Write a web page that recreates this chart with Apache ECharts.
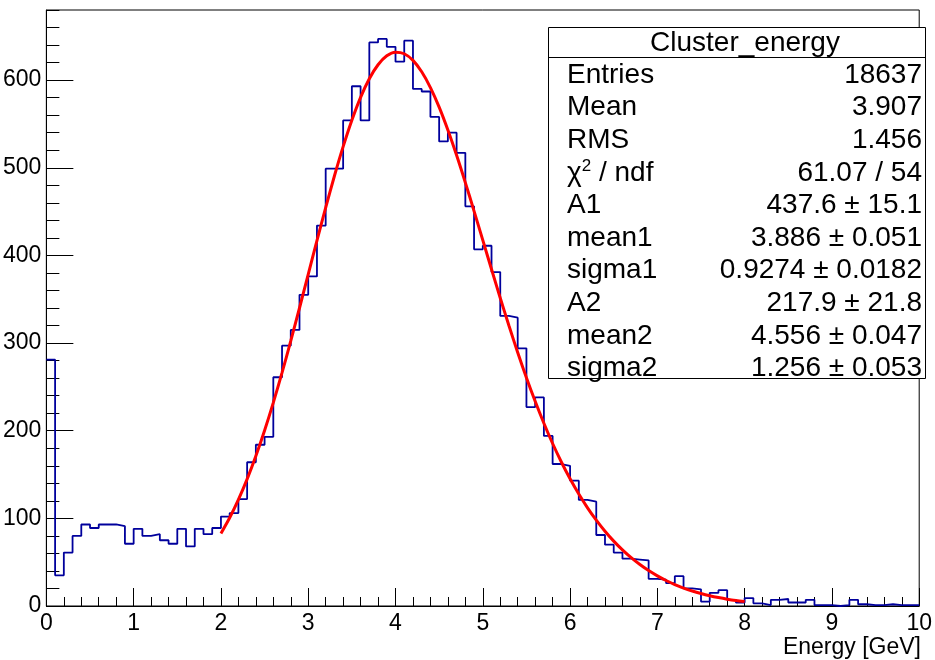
<!DOCTYPE html>
<html><head><meta charset="utf-8">
<script src="https://cdn.jsdelivr.net/npm/echarts@6/dist/echarts.min.js"></script>
<style>html,body{margin:0;padding:0;background:#fff}#c{width:935px;height:660px}</style>
</head><body><div id="c"></div>
<script>
// ---- data ----
const binWidth = 0.1;
const xStart = 0;
const counts = [
  281, 35, 61, 80, 93, 89, 93, 93, 91, 71,
  88, 80, 82, 75, 71, 88, 68, 88, 82, 89,
  102, 106, 122, 164, 184, 193, 261, 297, 315, 355,
  376, 434, 499, 499, 554, 593, 554, 643, 647, 638,
  621, 645, 590, 587, 558, 530, 540, 517, 456, 407,
  411, 381, 331, 329, 294, 227, 238, 194, 162, 160,
  143, 121, 119, 81, 70, 61, 54, 53, 52, 31,
  30, 26, 34, 20, 19, 5, 15, 18, 7, 4,
  9, 3, 1, 7, 8, 4, 4, 7, 1, 1,
  0, 1, 7, 2, 1, 1, 2, 1, 1, 1
];
const fitStart = 2.0;
const fitStep = 0.1;
const fitValues = [
  82.8, 100.7, 121.4, 144.8, 171.1, 200.3, 232.1, 266.3, 302.4, 340.0,
  378.4, 416.9, 454.5, 490.6, 524.1, 554.3, 580.4, 601.6, 617.5, 627.7,
  631.9, 630.1, 622.5, 609.5, 591.5, 569.2, 543.1, 514.2, 483.1, 450.6,
  417.4, 384.2, 351.4, 319.7, 289.3, 260.5, 233.6, 208.5, 185.4, 164.3,
  145.1, 127.7, 112.0, 97.9, 85.3, 74.0, 64.0, 55.1, 47.3, 40.4,
  34.4, 29.1, 24.5, 20.5, 17.1, 14.2, 11.7, 9.6, 7.8, 6.3, 5.1
];
const xTitle = 'Energy [GeV]';
const statsTitle = 'Cluster_energy';
const statsLabels = ['Entries', 'Mean', 'RMS', '{c|\u03c7}{s|2} / ndf', 'A1', 'mean1', 'sigma1', 'A2', 'mean2', 'sigma2'];
const statsValues = ['18637', '3.907', '1.456', '61.07 / 54', '437.6 \u00b1 15.1', '3.886 \u00b1 0.051',
  '0.9274 \u00b1 0.0182', '217.9 \u00b1 21.8', '4.556 \u00b1 0.047', '1.256 \u00b1 0.053'];

// ---- build ----
const histData = counts.map((v, i) => [+(xStart + i * binWidth).toFixed(2), v]);
histData.push([+(xStart + counts.length * binWidth).toFixed(2), counts[counts.length - 1]]);
const fitData = fitValues.map((v, i) => [+(fitStart + i * fitStep).toFixed(2), v]);

const FONT = '"Liberation Sans", Arial, Helvetica, sans-serif';
const SFS = 28;
const AFS = 23;
const graphic = [
  { type: 'rect', z: 100, shape: { x: 548.5, y: 27.5, width: 377, height: 351 },
    style: { fill: '#fff', stroke: '#000', lineWidth: 1 } },
  { type: 'line', z: 101, shape: { x1: 548.5, y1: 57.5, x2: 925.5, y2: 57.5 },
    style: { stroke: '#000', lineWidth: 1 } },
  { type: 'text', z: 101, x: 745, y: 43,
    style: { text: statsTitle, fontSize: SFS, fontFamily: FONT, fill: '#000', align: 'center', verticalAlign: 'middle' } },
  { type: 'text', z: 101, x: 921, y: 648,
    style: { text: xTitle, fontSize: AFS, fontFamily: FONT, fill: '#000', align: 'right', verticalAlign: 'middle' } }
];
statsLabels.forEach((lab, i) => {
  const y = 75 + i * 32.6;
  graphic.push({ type: 'text', z: 101, x: 567, y: y,
    style: { text: lab, fontSize: SFS, fontFamily: FONT, fill: '#000', align: 'left', verticalAlign: 'middle',
      rich: { c: { fontSize: SFS, fontFamily: FONT }, s: { fontSize: 17, fontFamily: FONT, padding: [0, 0, 13, 0] } } } });
  graphic.push({ type: 'text', z: 101, x: 922, y: y,
    style: { text: statsValues[i], fontSize: SFS, fontFamily: FONT, fill: '#000', align: 'right', verticalAlign: 'middle' } });
});

const chart = echarts.init(document.getElementById('c'), null, { renderer: 'canvas' });
chart.setOption({
  animation: false,
  backgroundColor: '#fff',
  grid: { left: 46, right: 9, top: 10, bottom: 54, show: true, borderColor: '#000', borderWidth: 1, backgroundColor: 'transparent' },
  xAxis: {
    type: 'value', min: 0, max: 10, interval: 1,
    axisLine: { show: true, onZero: false, lineStyle: { color: '#000', width: 1 } },
    axisTick: { show: true, inside: true, length: 18, lineStyle: { color: '#000', width: 1 } },
    minorTick: { show: true, splitNumber: 5, length: 9, lineStyle: { color: '#000', width: 1 } },
    axisLabel: { color: '#000', fontSize: AFS, fontFamily: FONT, margin: 6 },
    splitLine: { show: false }
  },
  yAxis: [{
    type: 'value', min: 0, max: 680, interval: 100,
    axisLine: { show: true, lineStyle: { color: '#000', width: 1 } },
    axisTick: { show: true, inside: true, length: 27, lineStyle: { color: '#000', width: 1 } },
    axisLabel: { color: '#000', fontSize: AFS, fontFamily: FONT, margin: 5, showMaxLabel: false },
    splitLine: { show: false }
  }, {
    type: 'value', min: 0, max: 680, interval: 20, position: 'left',
    axisLine: { show: false },
    axisTick: { show: true, inside: true, length: 13, lineStyle: { color: '#000', width: 1 } },
    axisLabel: { show: false },
    splitLine: { show: false }
  }],
  series: [{
    type: 'line', name: 'hist', step: 'end', data: histData, yAxisIndex: 0,
    showSymbol: false, symbol: 'none',
    lineStyle: { color: '#00009c', width: 1.8 }, z: 3
  }, {
    type: 'line', name: 'fit', data: fitData, yAxisIndex: 0, smooth: 0.3,
    showSymbol: false, symbol: 'none',
    lineStyle: { color: '#ff0000', width: 3 }, z: 4
  }],
  graphic: graphic
});
</script>
</body></html>
